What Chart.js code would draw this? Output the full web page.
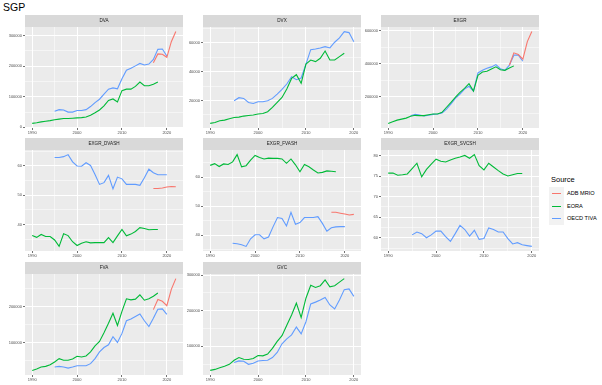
<!DOCTYPE html>
<html>
<head>
<meta charset="utf-8">
<script src="https://cdn.jsdelivr.net/npm/chart.js@4.4.1/dist/chart.umd.min.js"></script>
<style>
  body { margin: 0; background: #fff; width: 602px; height: 385px; overflow: hidden; position: relative;
         font-family: "Liberation Sans", Arial, sans-serif; }
  canvas { position: absolute; }
  #title { position: absolute; left: 3px; top: 1px; font-size: 10.5px; color: #000; }
  #legend { position: absolute; left: 549px; top: 175px; color: #000; }
  #legend .lt { font-size: 7.5px; margin: 0 0 3px 2px; }
  #legend .row { height: 12.5px; display: flex; align-items: center; font-size: 5.6px; }
  #legend .key { width: 15px; height: 12.5px; background: #F2F2F2; position: relative; margin-right: 3px; }
  #legend .key i { position: absolute; left: 3px; right: 3px; top: 6px; height: 1.1px; }
</style>
</head>
<body>
<div id="title">SGP</div>
<div id="legend">
  <div class="lt">Source</div>
  <div class="row"><span class="key"><i style="background:#F8766D"></i></span>ADB MRIO</div>
  <div class="row"><span class="key"><i style="background:#00BA38"></i></span>EORA</div>
  <div class="row"><span class="key"><i style="background:#619CFF"></i></span>OECD TIVA</div>
</div>
<script>
// years covered by each source
const eoraYears = [];
for (let y = 1990; y <= 2018; y++) eoraYears.push(y);
const oecdYears = [];
for (let y = 1995; y <= 2020; y++) oecdYears.push(y);
const adbYears = [2017, 2018, 2019, 2020, 2021, 2022];

// DVA
const dvaEora = [13000, 15000, 18000, 20000, 22000, 25000, 27000, 29000, 29000, 30000, 31000, 32000, 34000, 40000, 48000,
  57000, 70000, 88000, 93000, 83000, 120000, 125000, 125000, 134000, 148000, 136000, 136000, 141000, 148000];
const dvaOecd = [53000, 58000, 57000, 50000, 50000, 55000, 55000, 58000, 68000, 81000, 92000, 109000, 125000, 129000,
  126000, 159000, 187000, 193000, 201000, 209000, 204000, 207000, 222000, 255000, 256000, 233000];
const dvaAdb = [211000, 240000, 239000, 229000, 280000, 313000];

// DVX
const dvxEora = [4000, 4650, 5800, 6300, 7200, 8100, 8400, 9100, 9500, 9800, 10500, 10900, 12100, 15100, 18600, 22100,
  27900, 35300, 37900, 31900, 45300, 48100, 47000, 49300, 54400, 48100, 48100, 50500, 52800];
const dvxOecd = [19800, 21900, 21400, 18600, 17900, 19100, 19100, 19800, 21400, 24400, 27700, 31400, 36500, 34400,
  35600, 45300, 55300, 55800, 56500, 57400, 56500, 60500, 63500, 67900, 67200, 60900];

// EXGR
const exgrEora = [37000, 47000, 57000, 63000, 69000, 80000, 86000, 84000, 84000, 90000, 94000, 94000, 104000, 135000,
  165000, 196000, 225000, 250000, 278000, 233000, 329000, 349000, 353000, 367000, 380000, 363000, 359000, 373000, 386000];
const exgrOecd = [84000, 92000, 88000, 82000, 86000, 92000, 94000, 100000, 124000, 155000, 190000, 215000, 245000,
  262000, 233000, 343000, 359000, 371000, 380000, 394000, 369000, 359000, 390000, 451000, 451000, 414000];
const exgrAdb = [390000, 465000, 455000, 427000, 533000, 594000];

// EXGR_DVASH
const dvashEora = [36.2, 35.6, 36.6, 35.9, 35.9, 34.7, 32.5, 36.8, 36.2, 34.1, 32.8, 33.6, 34.1, 33.7, 33.8, 33.8, 33.8,
  35.5, 33.8, 36.1, 38.3, 36.1, 36.7, 37.6, 38.9, 38.6, 38.2, 38.3, 38.3];
const dvashOecd = [62.9, 62.9, 63.2, 63.9, 61.4, 60.0, 59.9, 61.1, 60.2, 57.1, 53.7, 54.3, 56.8, 52.2, 56.2, 55.6, 53.7,
  53.7, 53.7, 53.4, 56.0, 58.9, 57.7, 57.0, 57.0, 57.0];
const dvashAdb = [52.3, 52.3, 52.5, 52.8, 53.0, 52.9];

// EXGR_FVASH
const fvashEora = [64.0, 64.6, 63.6, 64.5, 64.3, 65.2, 67.7, 63.5, 63.9, 65.8, 67.4, 66.7, 66.2, 66.5, 66.4, 66.4, 66.2,
  64.7, 66.2, 64.2, 61.8, 64.3, 63.5, 62.4, 61.4, 61.6, 62.1, 62.0, 61.8];
const fvashOecd = [37.3, 37.1, 36.8, 36.2, 38.8, 40.2, 40.2, 38.8, 39.4, 42.9, 46.1, 45.8, 43.2, 47.9, 43.8, 44.4, 46.1,
  46.1, 46.1, 46.4, 44.1, 41.4, 42.6, 42.9, 43.0, 43.0];
const fvashAdb = [47.9, 47.9, 47.6, 47.3, 47.0, 47.2];

// EXGR_SVCSH
const svcshEora = [75.7, 75.7, 75.2, 75.3, 75.5, 76.8, 78.1, 74.8, 76.6, 77.9, 79.1, 78.6, 78.4, 78.9, 79.3, 79.6, 80.0,
  79.3, 80.2, 77.5, 76.5, 78.1, 77.2, 76.3, 75.5, 75.0, 75.3, 75.6, 75.6];
const svcshOecd = [60.7, 61.4, 61.0, 60.0, 60.7, 61.6, 61.6, 60.3, 59.1, 61.0, 63.0, 62.0, 60.4, 61.8, 59.6, 59.8, 62.4,
  62.0, 61.4, 61.4, 59.8, 58.5, 58.8, 58.3, 58.1, 57.9];

// FVA
const fvaEora = [23400, 27100, 32700, 34600, 39300, 46700, 56100, 51400, 51400, 55100, 62600, 60700, 63600, 74800, 91600,
  103700, 128000, 154000, 182000, 148000, 187000, 222000, 219000, 221000, 233000, 218000, 222000, 229000, 238000];
const fvaOecd = [32700, 34600, 32700, 29900, 32700, 36400, 36400, 36400, 42100, 56100, 74800, 86900, 94400, 117000,
  101000, 126000, 161000, 166000, 173000, 180000, 161000, 145000, 168000, 193000, 194000, 179000];
const fvaAdb = [192000, 220000, 215000, 203000, 248000, 278000];

// GVC
const gvcEora = [32400, 35200, 40000, 43800, 49500, 61000, 68600, 63800, 62900, 65700, 74300, 73300, 78100, 94300,
  114000, 130000, 159000, 188000, 221000, 181000, 235000, 271000, 265000, 270000, 286000, 267000, 270000, 280000, 290000];
const gvcOecd = [54300, 59000, 58100, 49500, 52400, 59000, 60000, 61000, 68600, 82900, 107000, 121000, 132000, 154000,
  135000, 169000, 219000, 224000, 230000, 237000, 216000, 205000, 230000, 259000, 261000, 240000];

const colours = { adb: "#F8766D", eora: "#00BA38", oecd: "#619CFF" };

const panels = [
  { name: "DVA", row: 0, col: 0, step: 100000, eora: dvaEora, oecd: dvaOecd, adb: dvaAdb },
  { name: "DVX", row: 0, col: 1, step: 20000, eora: dvxEora, oecd: dvxOecd },
  { name: "EXGR", row: 0, col: 2, step: 200000, eora: exgrEora, oecd: exgrOecd, adb: exgrAdb },
  { name: "EXGR_DVASH", row: 1, col: 0, step: 10, eora: dvashEora, oecd: dvashOecd, adb: dvashAdb },
  { name: "EXGR_FVASH", row: 1, col: 1, step: 10, eora: fvashEora, oecd: fvashOecd, adb: fvashAdb },
  { name: "EXGR_SVCSH", row: 1, col: 2, step: 5, eora: svcshEora, oecd: svcshOecd },
  { name: "FVA", row: 2, col: 0, step: 100000, eora: fvaEora, oecd: fvaOecd, adb: fvaAdb },
  { name: "GVC", row: 2, col: 1, step: 100000, eora: gvcEora, oecd: gvcOecd },
];

// layout of the facet grid
const colLeft = [25, 203, 381];
const rowTop = [27, 150, 274];
const plotW = 158, plotH = 101, stripH = 12, yAxisW = 24, xAxisH = 12, padRight = 10;
const FONT = '"Liberation Sans", Arial, sans-serif';

const facetBg = {
  id: "facetBg",
  beforeDraw(chart, args, opts) {
    const { ctx, chartArea: a } = chart;
    ctx.save();
    ctx.fillStyle = "#EBEBEB";
    ctx.fillRect(a.left, a.top, a.right - a.left, a.bottom - a.top);
    ctx.fillStyle = "#D9D9D9";
    ctx.fillRect(a.left, a.top - stripH, a.right - a.left, stripH);
    ctx.fillStyle = "#1A1A1A";
    ctx.font = "4.6px " + FONT;
    ctx.textAlign = "center";
    ctx.textBaseline = "middle";
    ctx.fillText(opts.label, (a.left + a.right) / 2, a.top - stripH / 2);
    ctx.restore();
  },
};

function isMajor(v, step) {
  return Math.abs(v / step - Math.round(v / step)) < 1e-6;
}

function series(years, values, colour) {
  return {
    data: values.map((v, i) => ({ x: years[i], y: v })),
    borderColor: colour,
    borderWidth: 1.1,
    pointRadius: 0,
    tension: 0,
    fill: false,
  };
}

panels.forEach((p) => {
  const canvas = document.createElement("canvas");
  const w = yAxisW + plotW + padRight;
  const h = stripH + plotH + xAxisH;
  canvas.style.left = colLeft[p.col] - yAxisW + "px";
  canvas.style.top = rowTop[p.row] - stripH + "px";
  canvas.style.width = w + "px";
  canvas.style.height = h + "px";
  canvas.width = w;
  canvas.height = h;
  document.body.appendChild(canvas);

  const datasets = [];
  if (p.adb) datasets.push(series(adbYears, p.adb, colours.adb));
  datasets.push(series(eoraYears, p.eora, colours.eora));
  datasets.push(series(oecdYears, p.oecd, colours.oecd));

  // ggplot-style 5% expansion
  const xMaxYear = p.adb ? 2022 : 2020;
  const xPad = (xMaxYear - 1990) * 0.05;
  const allY = p.eora.concat(p.oecd, p.adb || []);
  const yLo = Math.min(...allY), yHi = Math.max(...allY);
  const yPad = (yHi - yLo) * 0.05;

  const gridOpts = (step) => ({
    color: "#FFFFFF",
    lineWidth: (c) => (c.tick && isMajor(c.tick.value, step) ? 1 : 0.5),
    tickColor: (c) => (c.tick && isMajor(c.tick.value, step) ? "#333333" : "rgba(0,0,0,0)"),
    tickLength: 2,
    tickWidth: 0.7,
  });

  const buildTicks = (step) => (axis) => {
    const half = step / 2;
    const ticks = [];
    for (let v = Math.ceil(axis.min / half) * half; v <= axis.max + 1e-9; v += half) {
      ticks.push({ value: Math.round(v * 1000) / 1000 });
    }
    axis.ticks = ticks;
  };

  new Chart(canvas, {
    type: "line",
    data: { datasets },
    plugins: [facetBg],
    options: {
      responsive: false,
      animation: false,
      events: [],
      layout: { padding: { left: 0, right: padRight, top: stripH, bottom: 0 } },
      plugins: {
        legend: { display: false },
        tooltip: { enabled: false },
        facetBg: { label: p.name },
      },
      scales: {
        x: {
          type: "linear",
          min: 1990 - xPad,
          max: xMaxYear + xPad,
          border: { display: false },
          grid: gridOpts(10),
          afterBuildTicks: buildTicks(10),
          afterFit: (s) => { s.height = xAxisH; s.paddingLeft = 0; s.paddingRight = 0; },
          ticks: {
            autoSkip: false,
            maxRotation: 0,
            padding: 0,
            color: "#4D4D4D",
            font: { size: 4, family: FONT },
            callback: (v) => (isMajor(v, 10) ? String(v) : ""),
          },
        },
        y: {
          type: "linear",
          min: yLo - yPad,
          max: yHi + yPad,
          border: { display: false },
          grid: gridOpts(p.step),
          afterBuildTicks: buildTicks(p.step),
          afterFit: (s) => { s.width = yAxisW; s.paddingTop = 0; s.paddingBottom = 0; },
          ticks: {
            autoSkip: false,
            padding: 1,
            color: "#4D4D4D",
            font: { size: 4, family: FONT },
            callback: (v) => (isMajor(v, p.step) ? String(v) : ""),
          },
        },
      },
    },
  });
});
</script>
</body>
</html>
